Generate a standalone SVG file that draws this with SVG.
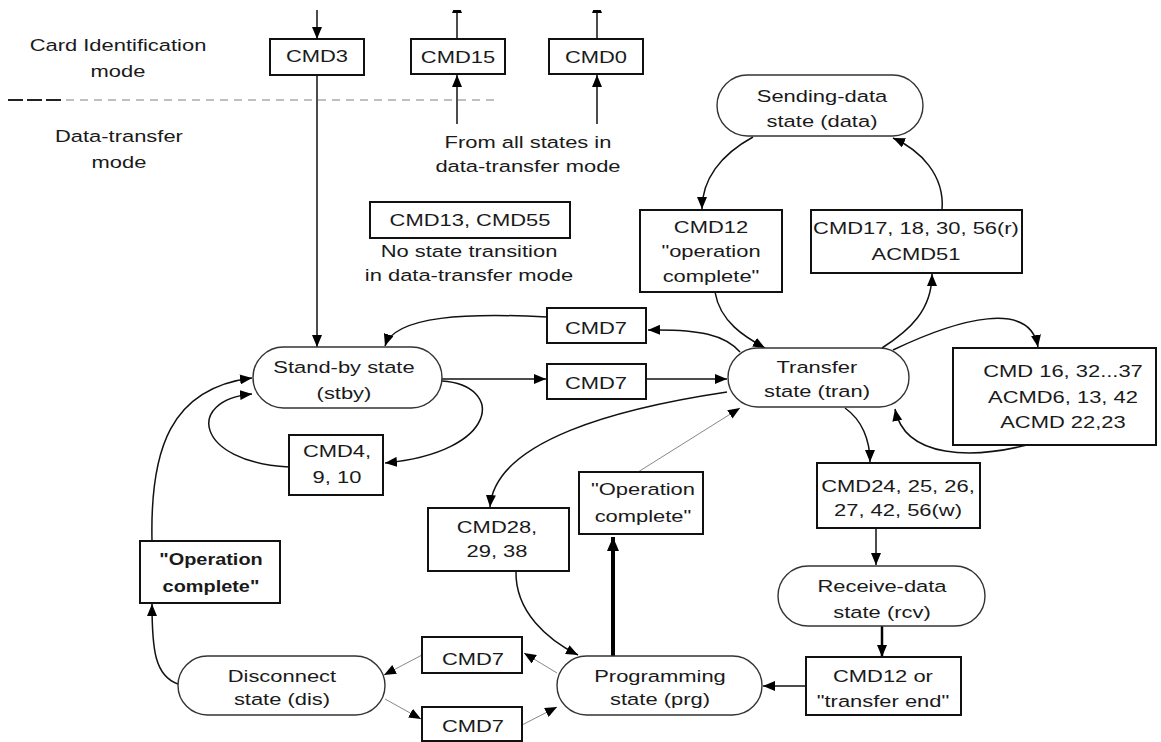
<svg xmlns="http://www.w3.org/2000/svg" width="1161" height="742" viewBox="0 0 1161 742">
  <style>
    .t { font-family: "Liberation Sans", Arial, sans-serif; font-size: 17px; fill: #1a1a1a; text-anchor: middle; transform-box: fill-box; transform-origin: center; transform: scaleX(1.29); }
    .tb { font-weight: bold; transform: scaleX(1.17); }
    .box { fill: #fff; stroke: #111; stroke-width: 2; }
    .state { fill: #fff; stroke: #333; stroke-width: 1.4; }
    .c { fill: none; stroke: #111; stroke-width: 1.5; marker-end: url(#ah); }
    .g { fill: none; stroke: #888; stroke-width: 1; marker-end: url(#ah); }
    .k { fill: none; stroke: #000; stroke-width: 4; marker-end: url(#ahb); }
    .m { fill: none; stroke: #000; stroke-width: 2.5; marker-end: url(#ah); }
  </style>
  <defs>
    <marker id="ah" viewBox="0 0 12 10" refX="12" refY="5" markerWidth="12" markerHeight="10" markerUnits="userSpaceOnUse" orient="auto">
      <path d="M0,0 L12,5 L0,10 z" fill="#000"/>
    </marker>
    <marker id="ahb" viewBox="0 0 14 12" refX="14" refY="6" markerWidth="14" markerHeight="12" markerUnits="userSpaceOnUse" orient="auto">
      <path d="M0,0 L14,6 L0,12 z" fill="#000"/>
    </marker>
    <clipPath id="topcut">
      <rect x="0" y="10" width="1161" height="732"/>
    </clipPath>
  </defs>
  <rect width="1161" height="742" fill="#fff"/>

  <!-- mode divider and mode captions -->
  <g id="modes">
    <line x1="8" y1="100" x2="62" y2="100" stroke="#222" stroke-width="2" stroke-dasharray="15 4"/>
    <line x1="66" y1="100" x2="500" y2="100" stroke="#aaa" stroke-width="1.3" stroke-dasharray="8 6"/>
    <text class="t" x="118" y="51">Card Identification</text>
    <text class="t" x="118" y="77">mode</text>
    <text class="t" x="119" y="142">Data-transfer</text>
    <text class="t" x="119" y="168">mode</text>
    <text class="t" x="528" y="148">From all states in</text>
    <text class="t" x="528" y="172">data-transfer mode</text>
    <text class="t" x="469" y="257">No state transition</text>
    <text class="t" x="469" y="281">in data-transfer mode</text>
  </g>

  <!-- connectors -->
  <g id="connectors">
    <path class="c" d="M317,10 V39"/>
    <g clip-path="url(#topcut)">
      <path class="c" d="M457,39 V1"/>
      <path class="c" d="M597,39 V1"/>
    </g>
    <path class="c" d="M457,124 V75"/>
    <path class="c" d="M597,124 V75"/>
    <path class="c" d="M317,75 V347"/>
    <path class="c" d="M547,317 C470,313 395,315 385,346"/>
    <path class="c" d="M740,352 C725,335 700,329 648,330"/>
    <path class="c" d="M442,379 H546"/>
    <path class="c" d="M646,379 H727"/>
    <path class="c" d="M442,381 C505,385 500,452 385,463"/>
    <path class="c" d="M289,467 C195,462 185,400 252,394"/>
    <path class="c" d="M152,541 C150,450 170,388 252,378"/>
    <path class="c" d="M178,684 C155,676 152,650 152,604"/>
    <path class="g" d="M422,655 L384,675"/>
    <path class="g" d="M385,699 L421,719"/>
    <path class="g" d="M522,725 L557,707"/>
    <path class="g" d="M557,673 L524,653"/>
    <path class="k" d="M613,656 V537"/>
    <path class="g" d="M638,472 L740,408"/>
    <path class="c" d="M727,392 C620,408 495,440 490,507"/>
    <path class="c" d="M516,571 C515,612 548,640 578,655"/>
    <path class="c" d="M806,686 H763"/>
    <path class="m" d="M882,626 V657"/>
    <path class="c" d="M876,528 V565"/>
    <path class="c" d="M845,408 C862,420 870,440 870,462"/>
    <path class="c" d="M1027,445 C975,458 905,460 895,409"/>
    <path class="c" d="M893,350 C960,318 1030,300 1038,347"/>
    <path class="c" d="M882,348 C910,330 932,310 932,274"/>
    <path class="c" d="M715,292 C720,322 745,337 765,348"/>
    <path class="c" d="M753,137 C720,155 702,180 702,209"/>
    <path class="c" d="M942,210 C945,175 920,150 893,138"/>
  </g>

  <!-- command boxes -->
  <g id="cmd3"><rect class="box" x="270" y="39" width="94" height="36"/><text class="t" x="317" y="62">CMD3</text></g>
  <g id="cmd15"><rect class="box" x="411" y="39" width="94" height="35"/><text class="t" x="458" y="63">CMD15</text></g>
  <g id="cmd0"><rect class="box" x="549" y="39" width="94" height="35"/><text class="t" x="596" y="63">CMD0</text></g>
  <g id="cmd13-55"><rect class="box" x="370" y="202" width="200" height="36"/><text class="t" x="470" y="226">CMD13, CMD55</text></g>
  <g id="cmd12-opc">
    <rect class="box" x="640" y="210" width="142" height="82"/>
    <text class="t" x="711" y="233">CMD12</text>
    <text class="t" x="711" y="257">"operation</text>
    <text class="t" x="711" y="282">complete"</text>
  </g>
  <g id="cmd17-read">
    <rect class="box" x="811" y="210" width="211" height="63"/>
    <text class="t" x="916" y="234">CMD17, 18, 30, 56(r)</text>
    <text class="t" x="916" y="260">ACMD51</text>
  </g>
  <g id="cmd7-deselect"><rect class="box" x="547" y="308" width="99" height="35"/><text class="t" x="596" y="334">CMD7</text></g>
  <g id="cmd7-select"><rect class="box" x="547" y="364" width="99" height="35"/><text class="t" x="596" y="389">CMD7</text></g>
  <g id="cmd16-misc">
    <rect class="box" x="953" y="348" width="203" height="97"/>
    <text class="t" x="1063" y="377">CMD 16, 32...37</text>
    <text class="t" x="1063" y="403">ACMD6, 13, 42</text>
    <text class="t" x="1063" y="428">ACMD 22,23</text>
  </g>
  <g id="cmd4-9-10">
    <rect class="box" x="289" y="435" width="94" height="60"/>
    <text class="t" x="337" y="457">CMD4,</text>
    <text class="t" x="337" y="483">9, 10</text>
  </g>
  <g id="cmd24-write">
    <rect class="box" x="817" y="463" width="163" height="65"/>
    <text class="t" x="898" y="492">CMD24, 25, 26,</text>
    <text class="t" x="898" y="516">27, 42, 56(w)</text>
  </g>
  <g id="cmd12-end">
    <rect class="box" x="806" y="657" width="155" height="58"/>
    <text class="t" x="883" y="682">CMD12 or</text>
    <text class="t" x="883" y="707">"transfer end"</text>
  </g>
  <g id="cmd28-prog">
    <rect class="box" x="428" y="508" width="141" height="63"/>
    <text class="t" x="497" y="533">CMD28,</text>
    <text class="t" x="497" y="557">29, 38</text>
  </g>
  <g id="opc-prg">
    <rect class="box" x="579" y="472" width="124" height="62"/>
    <text class="t" x="643" y="495">"Operation</text>
    <text class="t" x="643" y="522">complete"</text>
  </g>
  <g id="opc-dis">
    <rect class="box" x="140" y="541" width="140" height="62"/>
    <text class="t tb" x="211" y="565">"Operation</text>
    <text class="t tb" x="211" y="592">complete"</text>
  </g>
  <g id="cmd7-dis-in"><rect class="box" x="422" y="637" width="100" height="36"/><text class="t" x="473" y="665">CMD7</text></g>
  <g id="cmd7-dis-out"><rect class="box" x="422" y="707" width="100" height="34"/><text class="t" x="473" y="732">CMD7</text></g>

  <!-- states -->
  <g id="state-data">
    <rect class="state" x="717" y="75" width="206" height="61" rx="30.5"/>
    <text class="t" x="822" y="102">Sending-data</text>
    <text class="t" x="822" y="127">state (data)</text>
  </g>
  <g id="state-stby">
    <rect class="state" x="253" y="347" width="189" height="61" rx="30.5"/>
    <text class="t" x="344" y="373">Stand-by state</text>
    <text class="t" x="344" y="399">(stby)</text>
  </g>
  <g id="state-tran">
    <rect class="state" x="728" y="348" width="181" height="59" rx="29.5"/>
    <text class="t" x="817" y="373">Transfer</text>
    <text class="t" x="817" y="397">state (tran)</text>
  </g>
  <g id="state-rcv">
    <rect class="state" x="778" y="566" width="207" height="60" rx="30"/>
    <text class="t" x="882" y="592">Receive-data</text>
    <text class="t" x="882" y="618">state (rcv)</text>
  </g>
  <g id="state-prg">
    <rect class="state" x="557" y="656" width="205" height="59" rx="29.5"/>
    <text class="t" x="660" y="682">Programming</text>
    <text class="t" x="660" y="705">state (prg)</text>
  </g>
  <g id="state-dis">
    <rect class="state" x="178" y="656" width="207" height="59" rx="29.5"/>
    <text class="t" x="282" y="682">Disconnect</text>
    <text class="t" x="282" y="705">state (dis)</text>
  </g>
</svg>
